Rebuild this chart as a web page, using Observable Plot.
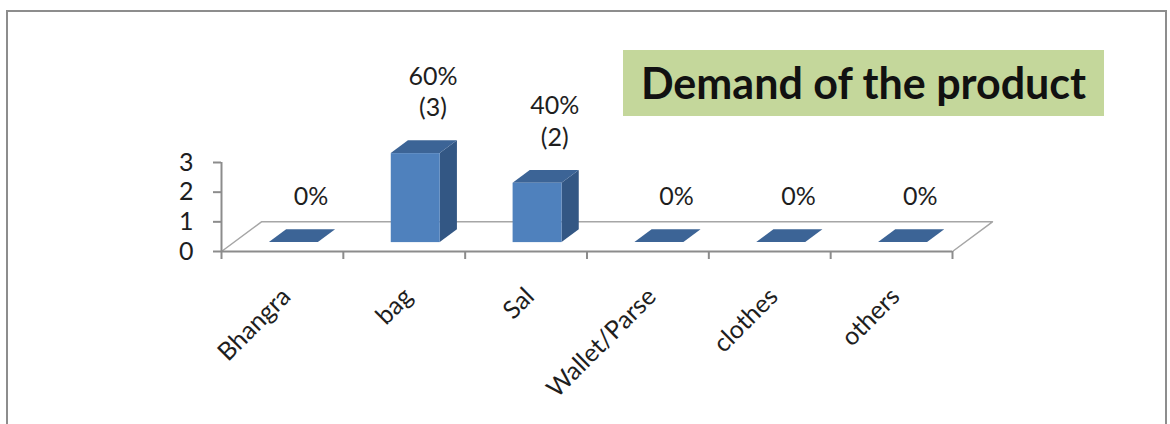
<!DOCTYPE html>
<html>
<head>
<meta charset="utf-8">
<script src="https://cdn.jsdelivr.net/npm/d3@7"></script>
<script src="https://cdn.jsdelivr.net/npm/@observablehq/plot@0.6"></script>
<style>
  html, body { margin: 0; padding: 0; background: #fff; }
  #wrap { position: relative; width: 1170px; height: 424px; overflow: hidden; background: #fff; }
  #frame { position: absolute; left: 6px; top: 10px; width: 1161px; height: 430px;
           border: 2px solid #8d8d8d; box-sizing: border-box; pointer-events: none; }
  #title { position: absolute; left: 623px; top: 50px; width: 481px; height: 66px;
           background: #c4d79b; font-family: Lato, sans-serif; font-weight: bold;
           font-size: 43px; line-height: 66px; text-align: center; color: #111; }
</style>
</head>
<body>
<div id="wrap">
  <div id="chart"></div>
  <div id="frame"></div>
  <div id="title">Demand of the product</div>
</div>
<script>
// Responses per product
const categories = ["Bhangra", "bag", "Sal", "Wallet/Parse", "clothes", "others"];
const counts = [0, 3, 2, 0, 0, 0];
const labels = ["0%", "60%\n(3)", "40%\n(2)", "0%", "0%", "0%"];
const yTicks = [0, 1, 2, 3];

// Oblique projection of the chart floor: one unit of depth moves a point
// right by DX (in category units) and up by DY (in value units).
const DX = 0.328, DY = 1.0;
const FRONT = 0.30, BACK = 0.73;      // depth range occupied by each column
const LEFT = 0.295, RIGHT = 0.697;    // column extent within its category slot

const rows = categories.map((c, i) => ({i, c, v: counts[i], label: labels[i]}));

const fronts = rows.map(d => ({
  c: d.c,
  x1: d.i + LEFT + DX * FRONT, x2: d.i + RIGHT + DX * FRONT,
  y1: DY * FRONT, y2: d.v + DY * FRONT
}));

const sides = rows.flatMap(d => [FRONT, BACK].map(t => ({
  c: d.c, x: d.i + RIGHT + DX * t, y1: DY * t, y2: d.v + DY * t
})));

const tops = rows.flatMap(d => [FRONT, BACK].map(t => ({
  c: d.c, y: d.v + DY * t, x1: d.i + LEFT + DX * t, x2: d.i + RIGHT + DX * t
})));

const tags = rows.map(d => ({
  label: d.label,
  x: d.i + (LEFT + RIGHT) / 2 + DX * BACK,
  y: d.v + DY * BACK
}));

const n = categories.length;
const floor = [
  {x: 0, y: 0}, {x: DX, y: DY}, {x: n + DX, y: DY}, {x: n, y: 0}
];

const axisGray = "#8c8c8c";
const ink = "#1e1e1e";

const chart = Plot.plot({
  width: 1170,
  height: 424,
  marginLeft: 221,
  marginRight: 218,
  marginTop: 162,
  marginBottom: 173,
  style: {fontFamily: "Lato, sans-serif", fontSize: "25px", color: ink, background: "transparent"},
  x: {type: "linear", domain: [0, n], axis: null},
  y: {type: "linear", domain: [0, 3], axis: null},
  marks: [
    // floor outline
    Plot.line(floor, {x: "x", y: "y", stroke: "#a6a6a6", strokeWidth: 1.5}),
    // axes
    Plot.ruleX([0], {y1: 0, y2: 3, stroke: axisGray, strokeWidth: 2}),
    Plot.ruleY([0], {x1: 0, x2: n, stroke: axisGray, strokeWidth: 2}),
    Plot.axisY({ticks: yTicks, tickFormat: d3.format("d"), tickSize: 8, tickPadding: 20,
                stroke: axisGray, strokeWidth: 2, fontSize: 25, fill: ink, label: null}),
    Plot.axisX({ticks: d3.range(n + 1), tickSize: 8, tickFormat: () => "",
                stroke: axisGray, strokeWidth: 2, label: null}),
    // columns: side, top, front faces
    Plot.areaY(sides, {x: "x", y1: "y1", y2: "y2", z: "c", fill: "#335784"}),
    Plot.areaX(tops, {y: "y", x1: "x1", x2: "x2", z: "c", fill: "#3c6496"}),
    Plot.rectY(fronts, {x1: "x1", x2: "x2", y1: "y1", y2: "y2", fill: "#4f81bd"}),
    // value labels
    Plot.text(tags, {x: "x", y: "y", text: "label", lineAnchor: "bottom",
                     lineHeight: 1.25, dy: -25, fontSize: 25, fill: ink}),
    // category labels
    Plot.text(rows, {x: d => d.i + 0.5, y: 0, text: "c", rotate: -45,
                     textAnchor: "end", lineAnchor: "middle", dx: 4, dy: 41,
                     fontSize: 25, fill: ink})
  ]
});

document.getElementById("chart").appendChild(chart);
</script>
</body>
</html>
